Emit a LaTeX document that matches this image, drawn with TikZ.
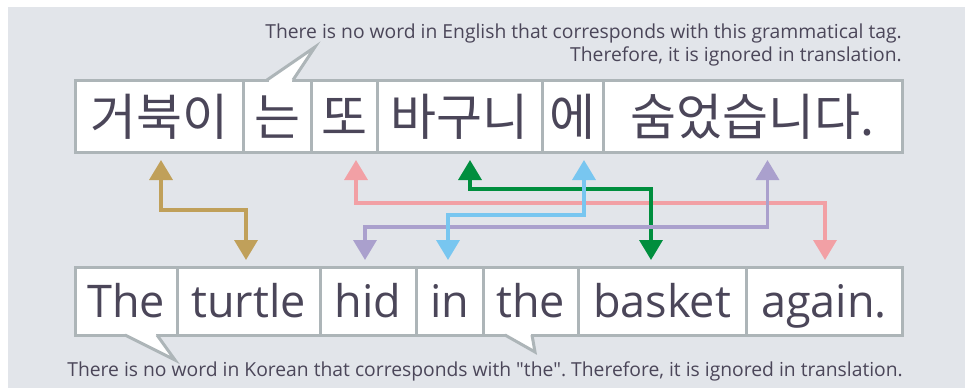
\documentclass[tikz,border=0pt]{standalone}
\usepackage{fontspec}
\setmainfont{Open Sans}[Ligatures=TeXOff]
\newfontfamily\kofont{Noto Sans CJK KR}
\usetikzlibrary{positioning,arrows.meta}
\definecolor{backdrop}{RGB}{226,229,234}
\definecolor{boxline}{RGB}{173,181,184}
\definecolor{ink}{RGB}{75,70,89}
\definecolor{goldline}{RGB}{192,160,90}
\definecolor{pinkline}{RGB}{242,160,165}
\definecolor{greenline}{RGB}{0,142,62}
\definecolor{blueline}{RGB}{120,198,240}
\definecolor{purpleline}{RGB}{170,160,205}
\tikzset{
  word/.style={draw=boxline, fill=white, line width=3pt, outer sep=0pt,
               inner xsep=0pt, inner ysep=0pt, text=ink},
  kword/.style={word, font=\kofont\fontsize{50}{50}\selectfont,
                minimum height=72pt, text height=38pt, text depth=0pt},
  eword/.style={word, font=\fontsize{45}{45}\selectfont,
                minimum height=68pt, text height=34pt, text depth=2pt},
  link/.style={{Triangle[length=20pt,width=23pt]}-{Triangle[length=20pt,width=23pt]},
               line width=3.5pt, shorten <=8pt, shorten >=7pt},
  tail/.style={draw=boxline, fill=white, line width=3pt},
  note/.style={text=ink, inner sep=0pt, align=right,
               font=\frenchspacing\fontsize{19.3}{23}\selectfont},
}

\begin{document}
\begin{tikzpicture}[x=1pt, y=-1pt]
  \useasboundingbox (0,0) rectangle (965,388);
  \fill[white] (0,0) rectangle (965,388);
  \fill[backdrop] (8,7) rectangle (965,388);

  % korean sentence
  \node[kword, minimum width=168pt, anchor=north west] (k1) at (75,80) {거북이};
  \node[kword, minimum width=68pt, right=0pt of k1] (k2) {는};
  \node[kword, minimum width=66pt, right=0pt of k2] (k3) {또};
  \node[kword, minimum width=165pt, right=0pt of k3] (k4) {바구니};
  \node[kword, minimum width=61pt, right=0pt of k4] (k5) {에};
  \node[kword, minimum width=299pt, right=0pt of k5] (k6) {숨었습니다.};

  % english sentence
  \node[eword, minimum width=102pt, anchor=north west] (e1) at (75,267) {The};
  \node[eword, minimum width=143pt, right=0pt of e1] (e2) {turtle};
  \node[eword, minimum width=96pt, right=0pt of e2] (e3) {hid};
  \node[eword, minimum width=67pt, right=0pt of e3] (e4) {in};
  \node[eword, minimum width=95pt, right=0pt of e4] (e5) {the};
  \node[eword, minimum width=168pt, right=0pt of e5] (e6) {basket};
  \node[eword, minimum width=156pt, right=0pt of e6] (e7) {again.};

  % callouts
  \fill[white] ([xshift=-8.5pt,yshift=-1.5pt]k2.north) rectangle ([xshift=14.5pt,yshift=1.6pt]k2.north);
  \draw[tail] ([xshift=-10pt]k2.north) -- ++(48,-33) -- ([xshift=16pt]k2.north);
  \fill[white] ([xshift=0.5pt,yshift=1.5pt]e1.south) rectangle ([xshift=29.5pt,yshift=-1.6pt]e1.south);
  \draw[tail] ([xshift=-1pt]e1.south) -- ++(50,25) -- ([xshift=31pt]e1.south);
  \fill[white] ([xshift=-24pt,yshift=1.5pt]e5.south) rectangle ([xshift=0pt,yshift=-1.6pt]e5.south);
  \draw[tail] ([xshift=-25.5pt]e5.south) -- ++(30,17) -- ([xshift=1.5pt]e5.south);

  \node[note, anchor=south east] (tagnote) at ([yshift=14pt]k6.north east)
    {There is no word in English that corresponds with this grammatical tag.\\
     Therefore, it is ignored in translation.};
  \node[note, anchor=north east] (thenote) at ([xshift=1pt,yshift=-27pt]e7.south east)
    {There is no word in Korean that corresponds with "the". Therefore, it is ignored in translation.};

  % word links
  \foreach \col/\from/\dx/\drop/\to/\ex in {goldline/k1/2/58/e2/-2.5,
      pinkline/k3/12/51/e7/1, greenline/k4/10.5/37/e6/-11,
      purpleline/k6/15/75/e3/-3, blueline/k5/11.5/63/e4/-1.5}
    \draw[link, draw=\col] ([xshift=\dx pt]\from.south) -- ++(0,\drop)
      -| ([xshift=\ex pt]\to.north);
\end{tikzpicture}
\end{document}
